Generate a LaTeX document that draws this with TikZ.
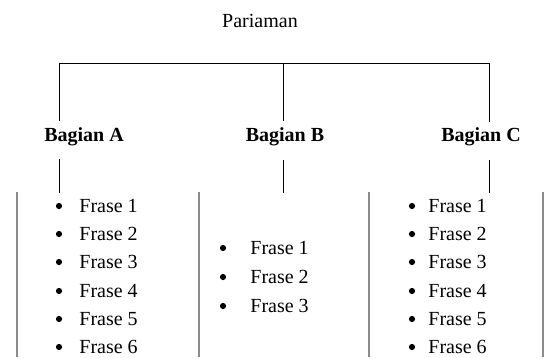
\documentclass[tikz,border=0pt]{standalone}
\usepackage{fontspec}
\setmainfont{Liberation Serif}
\usepackage{tikz}
\usepackage{xcolor}
\usetikzlibrary{positioning}

\tikzset{
  part/.style = {anchor=base, inner sep=0pt, font=\bfseries},
  frase/.style = {anchor=west, inner sep=0pt},
  dot/.style = {circle, fill=black, inner sep=0pt, minimum size=6.2bp},
  col/.style = {draw=black!45, line width=1.2bp}
}

\begin{document}
\begin{tikzpicture}[x=1bp, y=-1bp, line width=0.8bp]
\fontsize{20bp}{24bp}\selectfont
\useasboundingbox (0,0) rectangle (545,357);

\node[anchor=base, inner sep=0pt] (title) at (260,27) {Pariaman};

\coordinate (barA) at (59,63);
\coordinate (barB) at (283,63);
\coordinate (barC) at (489,63);
\coordinate (upA) at (59,121);
\coordinate (upB) at (283,121);
\coordinate (upC) at (489,122);
\coordinate (lowA) at (59,159);
\coordinate (lowB) at (283,160);
\coordinate (lowC) at (489,160);
\coordinate (endA) at (59,193);
\coordinate (endB) at (283,193);
\coordinate (endC) at (489,193);

\node[part] (partA) at (84,141) {Bagian A};
\node[part] (partB) at (285,141) {Bagian B};
\node[part] (partC) at (481,141) {Bagian C};

\draw (barA) -- (barC);
\draw (barA) -- (upA);
\draw (barB) -- (upB);
\draw (barC) -- (upC);
\draw (lowA) -- (endA);
\draw (lowB) -- (endB);
\draw (lowC) -- (endC);

\coordinate (edge0) at (17,192);
\coordinate (edge1) at (199,192);
\coordinate (edge2) at (369,192);
\coordinate (edge3) at (543,192);
\draw[col] (edge0) -- (edge0 |- 0,357);
\draw[col] (edge1) -- (edge1 |- 0,357);
\draw[col] (edge2) -- (edge2 |- 0,357);
\draw[col] (edge3) -- (edge3 |- 0,357);

\foreach \n/\y in {1/206,2/234,3/262,4/291,5/319,6/347} {
  \node[dot] (a\n dot) at (59,\y) {};
  \node[frase] (a\n) at (79,\y) {Frase \n};
  \node[dot] (c\n dot) at (412,\y) {};
  \node[frase] (c\n) at (428,\y) {Frase \n};
}

\foreach \n/\y in {1/248,2/277,3/306} {
  \node[dot] (b\n dot) at (223,\y) {};
  \node[frase] (b\n) at (250,\y) {Frase \n};
}
\end{tikzpicture}
\end{document}
